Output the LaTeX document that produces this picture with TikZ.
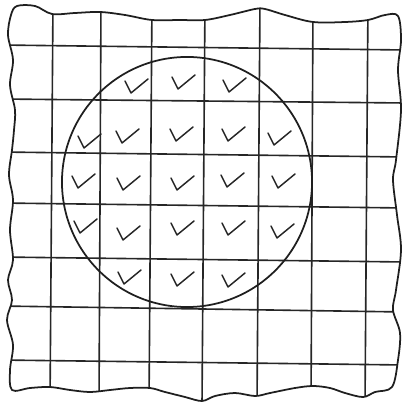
\documentclass[tikz,border=0pt]{standalone}
\begin{document}
\begin{tikzpicture}[x=0.025cm,y=-0.025cm,
  ink/.style={draw=black!88,line width=1.25pt,line join=round,line cap=round},
  gridline/.style={draw=black!85,line width=1.15pt},
  tick/.style={draw=black!85,line width=1.05pt,line join=round,line cap=round}]
\useasboundingbox (0,0) rectangle (405,405);
\path[save path=\sheetpath] plot[smooth cycle,tension=0.55] coordinates {
 (17,6) (35,6) (52,14) (75,13) (100,12) (125,15) (152,20) (180,20) (205,20)
 (230,15) (255,9) (265,9) (285,15) (313,22) (345,22) (368,20) (385,15) (398,16)
 (401,40) (398,70) (401,110) (396,160) (393,180) (397,215) (401,250) (396,290)
 (393,310) (400,333) (398,360) (392,387)
 (375,392) (363,397) (345,393) (330,388) (313,386) (295,388) (270,393) (255,396)
 (235,393) (215,396) (202,401) (185,397) (165,392) (150,388) (130,388) (110,390)
 (90,392) (70,390) (50,387) (30,388) (12,390)
 (10,370) (13,345) (7,320) (12,300) (8,280) (13,260) (10,230) (13,200) (9,175)
 (12,150) (14,130) (15,110) (10,85) (13,60) (8,35) (11,15)};
\begin{scope}
\clip[use path=\sheetpath];
\foreach \xt/\xb in {53/50,101/99,152/149,205/202,260/257,313/311,368/365}
  \draw[gridline] (\xt,0) -- (\xb,405);
\foreach \yl/\yr in {45/50,99/103,152/157,203/208,257/262,306/312,360/365}
  \draw[gridline] (0,\yl) -- (405,\yr);
\end{scope}
\draw[ink,use path=\sheetpath];
\node[ink,circle,minimum size=6.25cm,inner sep=0pt] (disk) at (187,182) {};
\foreach \bx/\by in {131/93,178/89,229/92,
  84/148,122/143,176/141,228/141,274/145,
  78/188,123/190,177/190,227/187,278/188,
  80/233,123/240,177/235,228/235,277/238,
  124/284,177/286,228/287}
  \draw[tick] (\bx-6,\by-12) -- (\bx,\by) -- (\bx+17,\by-14);
\end{tikzpicture}
\end{document}
